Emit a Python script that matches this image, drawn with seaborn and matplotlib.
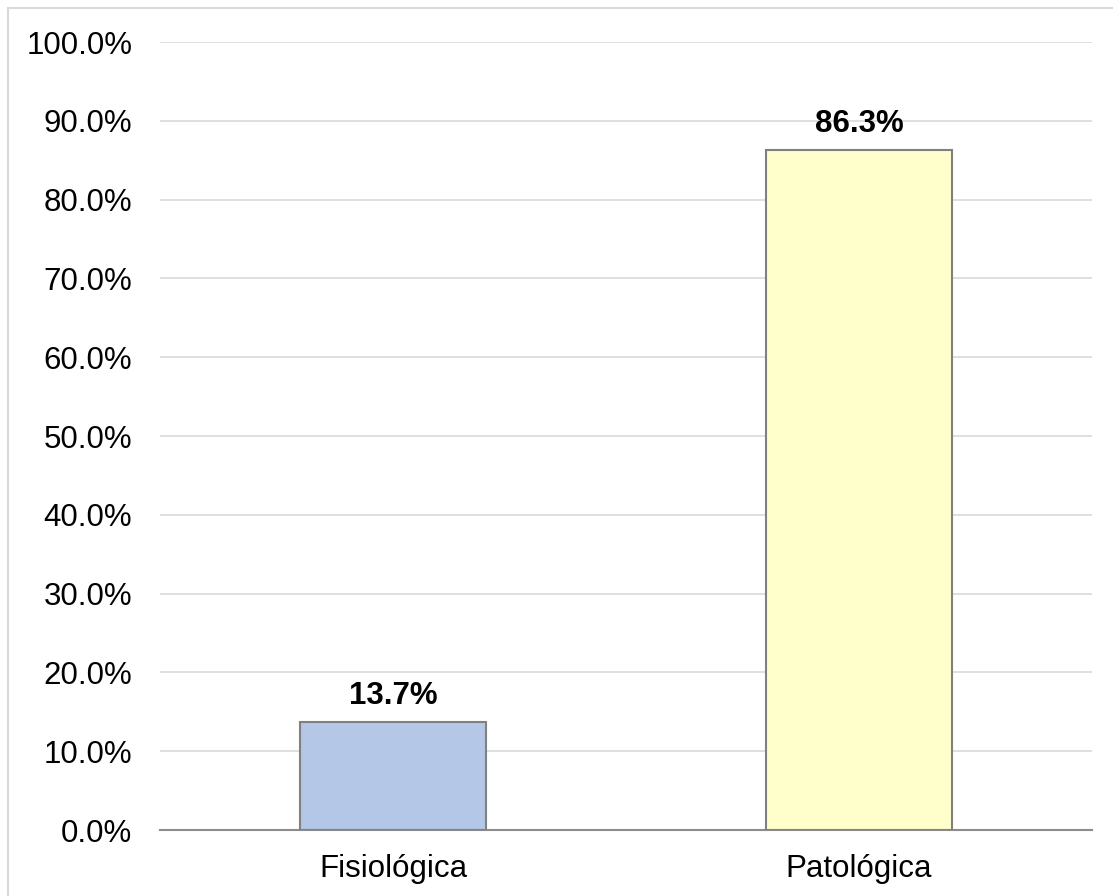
import matplotlib
matplotlib.use('Agg')
import matplotlib.pyplot as plt
import matplotlib.patches as mpatches
from matplotlib.ticker import PercentFormatter
import seaborn as sns
import pandas as pd

categorias = ['Fisiológica', 'Patológica']
porcentajes = [0.137, 0.863]
colores = ['#b4c7e7', '#ffffcc']

sns.set_theme(style='white')
plt.rcParams['font.family'] = ['Liberation Sans', 'DejaVu Sans']

df = pd.DataFrame({'cat': categorias, 'pct': porcentajes})

fig = plt.figure(figsize=(11.13, 8.96), dpi=100)
ax = fig.add_axes([160 / 1113, 66 / 896, 932 / 1113, 788 / 896])

sns.barplot(data=df, x='cat', y='pct', hue='cat', palette=colores, legend=False,
            saturation=1, width=0.4, edgecolor='#808080', linewidth=1.5, ax=ax, zorder=3)

ax.set_ylim(0, 1)
ax.set_yticks([i / 10 for i in range(11)])
ax.yaxis.set_major_formatter(PercentFormatter(1.0, decimals=1))
ax.grid(axis='y', color='#d9d9d9', linewidth=1.2, zorder=0)
ax.set_axisbelow(True)
for s in ['top', 'right', 'left']:
    ax.spines[s].set_visible(False)
ax.spines['bottom'].set_color('#8c8c8c')
ax.spines['bottom'].set_linewidth(1.5)
ax.tick_params(axis='both', length=0, labelsize=22.5, colors='black')
ax.tick_params(axis='y', pad=20)
ax.tick_params(axis='x', pad=17)
ax.set_xlabel('')
ax.set_ylabel('')

for i, v in enumerate(porcentajes):
    ax.annotate(f'{v * 100:.1f}%', (i, v), xytext=(0, 8), textcoords='offset points',
                ha='center', va='bottom', fontsize=22.5, fontweight='bold', color='black')

fig.patches.append(mpatches.Rectangle((8 / 1113, -0.1), 1.2, 1.1 - 8 / 896,
                                      transform=fig.transFigure, fill=False,
                                      edgecolor='#d9d9d9', linewidth=1.5))

fig.savefig('out.png', dpi=100)
